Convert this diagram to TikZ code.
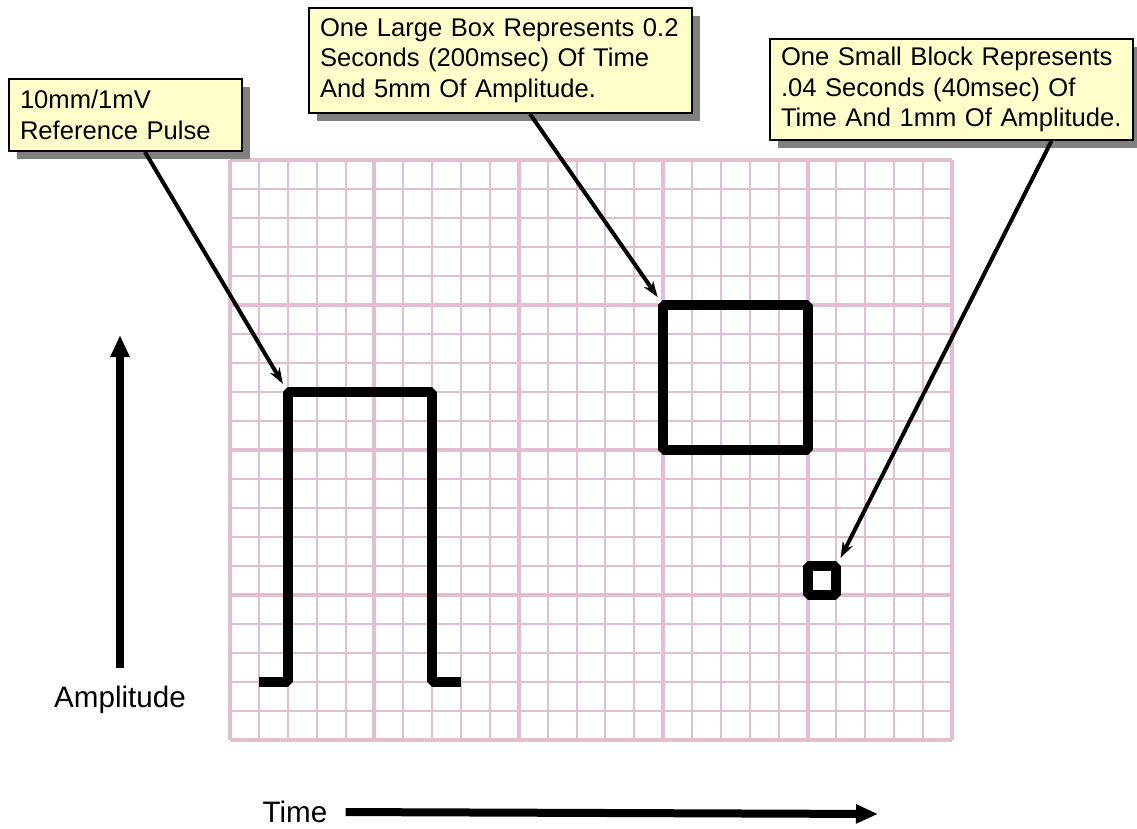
\documentclass[tikz,border=0pt]{standalone}
\usepackage{fontspec}
\setmainfont{Liberation Sans}
\usetikzlibrary{arrows.meta,shadows}

\definecolor{gridpink}{RGB}{227,190,210}
\definecolor{notefill}{RGB}{255,255,204}

\tikzset{
  gridthin/.style={gridpink, line width=1pt},
  gridthick/.style={gridpink, line width=2pt},
  trace/.style={line width=5pt, line join=bevel},
  note/.style={draw, line width=1pt, fill=notefill, align=left,
    inner xsep=5.5pt, font=\fontsize{12.8}{15.25}\selectfont,
    drop shadow={shadow xshift=4pt, shadow yshift=-4pt, fill=black!50, opacity=1}},
  pointer/.style={-{Stealth[length=8pt,width=5.5pt]}, line width=2pt},
  axisarrow/.style={-{Triangle[length=11pt,width=9pt]}, line width=4pt},
  axislabel/.style={font=\fontsize{14.8}{17}\selectfont}
}

\begin{document}
\begin{tikzpicture}[x=0.5pt, y=-0.5pt]
  \useasboundingbox (0,0) rectangle (1137,829);

  % ECG paper, in small blocks
  \begin{scope}[shift={(230,160)}, x=14.44pt, y=-14.5pt]
    \foreach \i in {0,...,25}
      \draw[gridthin] (\i,0) -- (\i,20);
    \foreach \j in {0,...,20}
      \draw[gridthin] (0,\j) -- (25,\j);
    \foreach \i in {0,5,...,25}
      \draw[gridthick] (\i,0) -- (\i,20);
    \foreach \j in {0,5,...,20}
      \draw[gridthick] (0,\j) -- (25,\j);

    % calibration pulse, large box, small block
    \draw[trace] (1,18) -- (2,18) -- (2,8) coordinate (pulsetop)
      -- (7,8) -- (7,18) -- (8,18);
    \draw[trace] (15,5) coordinate (bigbox) rectangle (20,10);
    \draw[trace] (20,15) rectangle (21,14) coordinate (smallbox);
  \end{scope}

  \node[note, text width=105.5pt, minimum height=36pt] (pulsenote) at (125.5,115)
    {10mm/1mV\\Reference Pulse};
  \node[note, text width=180.5pt, minimum height=52.5pt] (bignote) at (500.5,60.5)
    {One Large Box Represents 0.2\\Seconds (200msec) Of Time\\And 5mm Of Amplitude.};
  \node[note, text width=170.5pt, minimum height=50.5pt] (smallnote) at (951.5,89.5)
    {One Small Block Represents\\.04 Seconds (40msec) Of\\Time And 1mm Of Amplitude.};

  \draw[pointer, shorten >=4.7pt] ([xshift=9.75pt]pulsenote.south) -- (pulsetop);
  \draw[pointer, shorten >=4.8pt] ([xshift=14.75pt]bignote.south) -- (bigbox);
  \draw[pointer, shorten >=4.5pt] ([xshift=50pt]smallnote.south) -- (smallbox);

  % axes
  \node[axislabel] (amplabel) at (120,700) {Amplitude};
  \coordinate (amptop) at (120,335);
  \draw[axisarrow, shorten <=5.8pt] (amplabel.north) -- (amptop);

  \node[axislabel] (timelabel) at (295,812) {Time};
  \coordinate (timeend) at (878,814);
  \draw[axisarrow, shorten <=5.6pt] (timelabel.east) -- (timeend);
\end{tikzpicture}
\end{document}
